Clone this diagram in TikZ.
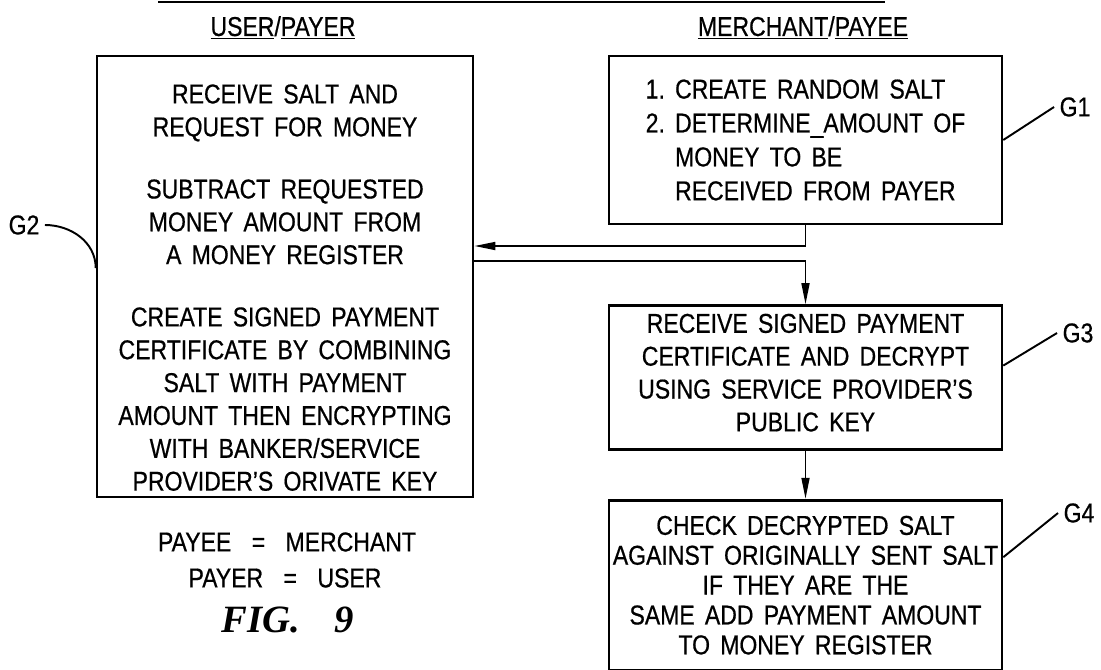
\documentclass[tikz,border=0pt]{standalone}
\usepackage{fontspec}
\setmainfont{Liberation Sans}[FakeStretch=0.845,WordSpace=1.6,FakeBold=0.6]
\newfontfamily\figfont{Liberation Serif}
\usetikzlibrary{arrows.meta,positioning}
\newcommand{\bodyfont}{\fontsize{15.5}{18.7}\selectfont}
\tikzstyle{stepbox}=[draw, line width=1.5pt, inner sep=0pt, align=center,
    minimum width=7.86cm, font=\bodyfont]
\tikzstyle{flow}=[-{Triangle[length=12pt,width=4.5pt]}, line width=1.1pt]
\tikzstyle{lead}=[line width=1.1pt]
\tikzstyle{reflabel}=[font=\bodyfont, inner sep=3pt]

\begin{document}
\begin{tikzpicture}[x=0.02cm, y=-0.02cm]
    \useasboundingbox (0,0) rectangle (1101,669);
    \draw [line width=1.6pt] (158,2) -- (885,2);
    \node (payerhead) at (283,28) [font=\bodyfont] {\underline{USER}/\underline{PAYER}};
    \node (payeehead) at (803,28) [font=\bodyfont] {\underline{MERCHANT}/\underline{PAYEE}};
    \node (payer) at (285,276.5) [stepbox, minimum width=7.52cm, minimum height=8.82cm]
        {\rule{0pt}{23.5pt}RECEIVE SALT AND\\REQUEST FOR MONEY\\[16.7pt]SUBTRACT REQUESTED\\
         MONEY AMOUNT FROM\\A MONEY REGISTER\\[16.7pt]CREATE SIGNED PAYMENT\\
         CERTIFICATE BY COMBINING\\SALT WITH PAYMENT\\AMOUNT THEN ENCRYPTING\\
         WITH BANKER/SERVICE\\PROVIDER'S ORIVATE KEY};
    \node (salt) at (805.5,140) [stepbox, minimum height=3.36cm, align=left,
        font=\fontsize{15.5}{19.3}\selectfont]
        {1.~CREATE RANDOM SALT\\2.~DETERMINE\_AMOUNT OF\\\phantom{2.~}MONEY TO BE\\
         \phantom{2.~}RECEIVED FROM PAYER};
    \node (verify) [stepbox, below=1.58cm of salt, minimum height=2.88cm]
        {RECEIVE SIGNED PAYMENT\\CERTIFICATE AND DECRYPT\\USING SERVICE PROVIDER'S\\
         PUBLIC KEY\rule[-5.7pt]{0pt}{1pt}};
    \node (check) [stepbox, below=0.96cm of verify, minimum height=3.4cm,
        font=\fontsize{15.5}{17}\selectfont]
        {CHECK DECRYPTED SALT\\AGAINST ORIGINALLY SENT SALT\\IF THEY ARE THE\\
         SAME ADD PAYMENT AMOUNT\\TO MONEY REGISTER};
    \draw [flow] (salt.south) |- ([yshift=0.61cm]payer.east);
    \draw [flow] ([yshift=0.31cm]payer.east) -| (verify.north);
    \draw [flow] (verify) -- (check);
    \node (g1) at (1075,107) [reflabel] {G1};
    \node (g2) at (24,225) [reflabel] {G2};
    \node (g3) at (1078,333) [reflabel] {G3};
    \node (g4) at (1079,513) [reflabel] {G4};
    \draw [lead] (salt.east) -- (g1.west);
    \draw [lead] (g2.east) to[out=0, in=90] ([yshift=0.17cm]payer.west);
    \draw [lead] ([yshift=0.24cm]verify.east) -- (g3.west);
    \draw [lead] ([yshift=0.56cm]check.east) -- (g4.west);
    \node (alias1) at (287,542) [font=\bodyfont] {PAYEE\hspace{0.75em}=\hspace{0.75em}MERCHANT};
    \node (alias2) at (285,578) [font=\bodyfont] {PAYER\hspace{0.75em}=\hspace{0.75em}USER};
    \node (fig) at (288,620) [font=\figfont\fontsize{22}{24}\selectfont\bfseries\itshape]
        {FIG.\hspace{0.9em}9};
\end{tikzpicture}
\end{document}
